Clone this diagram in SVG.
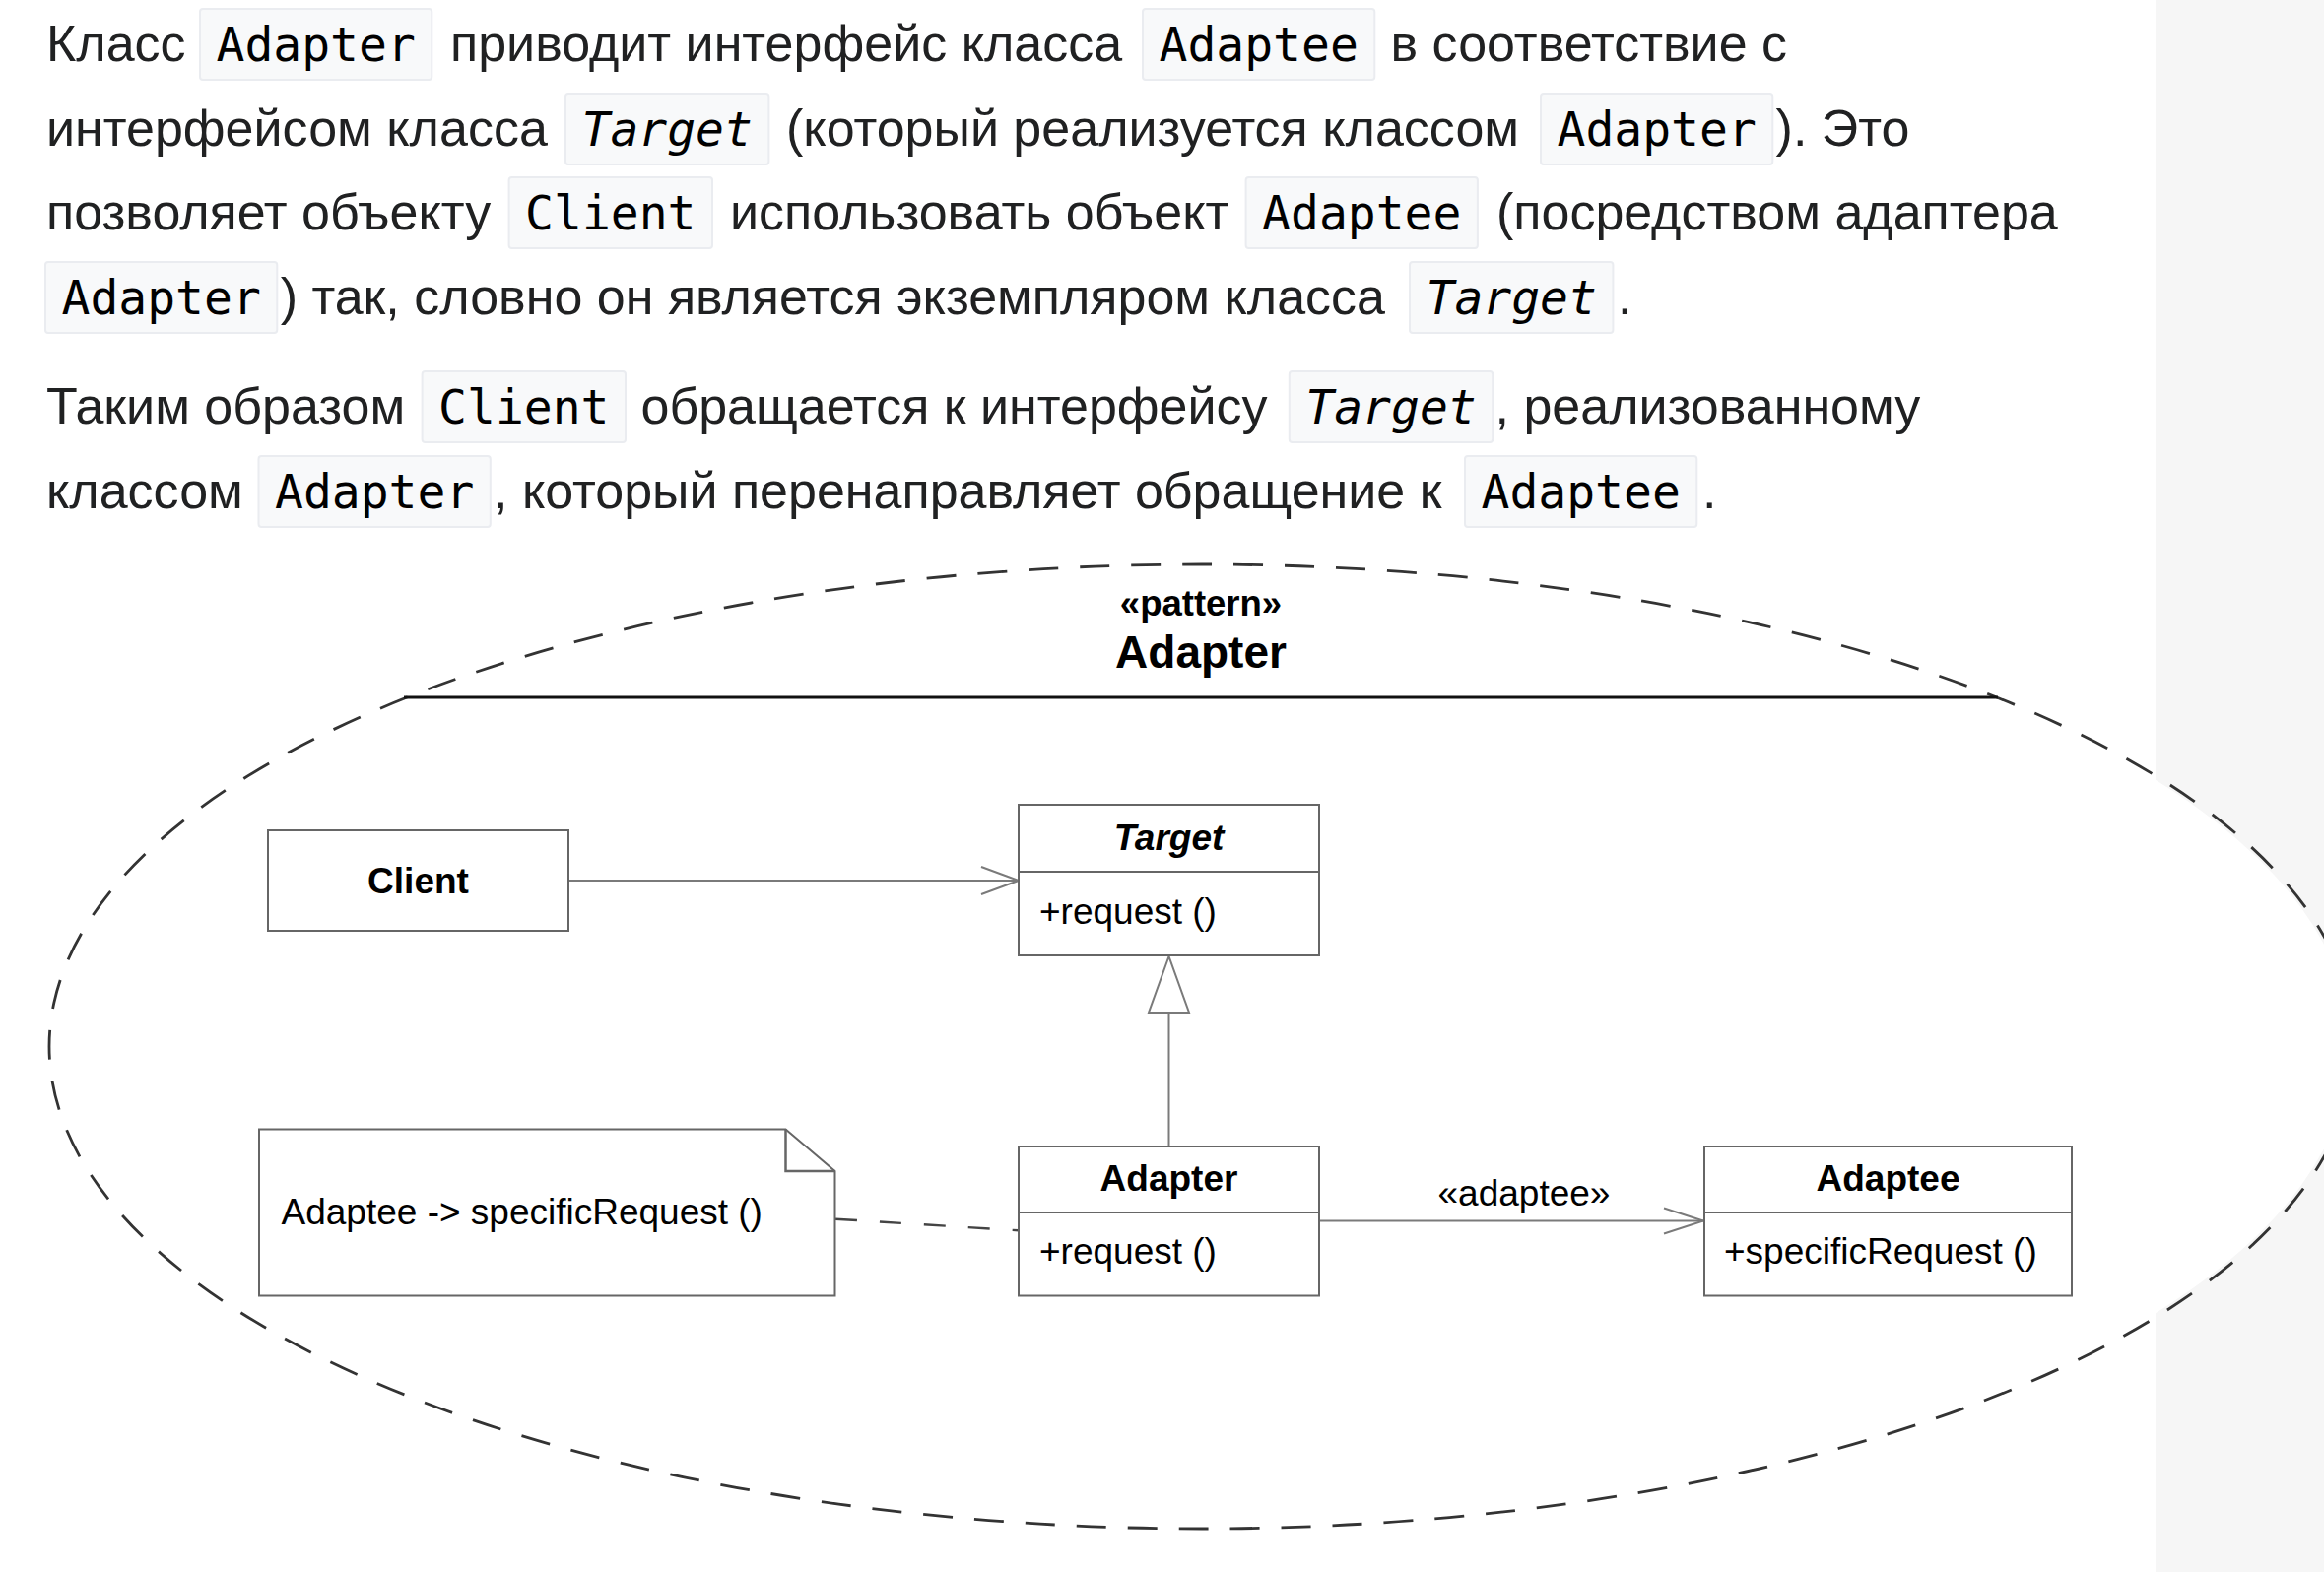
<svg xmlns="http://www.w3.org/2000/svg" width="2359" height="1596" viewBox="0 0 2359 1596">
<defs>
<style>
.body{font-family:"Liberation Sans",Arial,sans-serif;font-size:52px;fill:#202122}
.code{fill:#f8f9fa;stroke:#eaecf0;stroke-width:2}
.mono{font-family:"DejaVu Sans Mono","Liberation Mono",monospace;font-size:48px;fill:#000}
.it{font-style:italic}
.box{fill:#fff;stroke:#666;stroke-width:2}
.lbl{font-family:"Liberation Sans",Arial,sans-serif;font-size:37px;fill:#000}
.b{font-weight:bold}
.mid{text-anchor:middle}
.conn{fill:none;stroke:#7a7a7a;stroke-width:2}
</style>
</defs>
<rect x="0" y="0" width="2359" height="1596" fill="#fff"/>
<rect x="2188" y="0" width="171" height="1596" fill="#f6f6f6"/>

<g id="paragraph">
<text class="body" x="47" y="62">Класс</text>
<rect class="code" x="203" y="9" width="235.3" height="72" rx="3"/><text class="mono" x="219.5" y="62">Adapter</text>
<text class="body" x="457" y="62">приводит интерфейс класса</text>
<rect class="code" x="1160" y="9" width="235.3" height="72" rx="3"/><text class="mono" x="1176.5" y="62">Adaptee</text>
<text class="body" x="1411.5" y="62">в соответствие с</text>

<text class="body" x="47" y="148">интерфейсом класса</text>
<rect class="code" x="574" y="95" width="206.4" height="72" rx="3"/><text class="mono it" x="590.5" y="148">Target</text>
<text class="body" x="798" y="148">(который реализуется классом</text>
<rect class="code" x="1564" y="95" width="235.3" height="72" rx="3"/><text class="mono" x="1580.5" y="148">Adapter</text>
<text class="body" x="1802.6" y="148">). Это</text>

<text class="body" x="47" y="233">позволяет объекту</text>
<rect class="code" x="516.6" y="180" width="206.4" height="72" rx="3"/><text class="mono" x="533.1" y="233">Client</text>
<text class="body" x="741" y="233">использовать объект</text>
<rect class="code" x="1264.6" y="180" width="235.3" height="72" rx="3"/><text class="mono" x="1281.1" y="233">Adaptee</text>
<text class="body" x="1519" y="233">(посредством адаптера</text>

<rect class="code" x="46" y="266" width="235.3" height="72" rx="3"/><text class="mono" x="62.5" y="319">Adapter</text>
<text class="body" x="284.7" y="319">) так, словно он является экземпляром класса</text>
<rect class="code" x="1431" y="266" width="206.4" height="72" rx="3"/><text class="mono it" x="1447.5" y="319">Target</text>
<text class="body" x="1642" y="319">.</text>

<text class="body" x="47" y="430">Таким образом</text>
<rect class="code" x="428.6" y="377" width="206.4" height="72" rx="3"/><text class="mono" x="445.1" y="430">Client</text>
<text class="body" x="650.5" y="430">обращается к интерфейсу</text>
<rect class="code" x="1308.8" y="377" width="206.4" height="72" rx="3"/><text class="mono it" x="1325.3" y="430">Target</text>
<text class="body" x="1517.5" y="430">, реализованному</text>

<text class="body" x="47" y="516">классом</text>
<rect class="code" x="262.5" y="463" width="235.3" height="72" rx="3"/><text class="mono" x="279" y="516">Adapter</text>
<text class="body" x="501" y="516">, который перенаправляет обращение к</text>
<rect class="code" x="1487" y="463" width="235.3" height="72" rx="3"/><text class="mono" x="1503.5" y="516">Adaptee</text>
<text class="body" x="1728" y="516">.</text>
</g>

<g id="pattern">
<ellipse cx="1220" cy="1062.5" rx="1166" ry="485.5" fill="#fff"/>
<ellipse cx="1220" cy="1062.5" rx="1170" ry="489.5" fill="none" stroke="#333" stroke-width="2.8" stroke-dasharray="30 22"/>
<line x1="410" y1="708" x2="2028" y2="708" stroke="#111" stroke-width="3"/>
<text class="lbl b mid" x="1219" y="625" style="font-size:36.5px">«pattern»</text>
<text class="lbl b mid" x="1219" y="678" style="font-size:46px">Adapter</text>
</g>

<g id="connectors">
<line class="conn" x1="577" y1="894" x2="1034" y2="894"/>
<polyline class="conn" points="996,880 1034,894 996,908"/>
<line class="conn" x1="1186.5" y1="1164" x2="1186.5" y2="1028"/>
<polygon points="1186.5,971 1166,1028 1207,1028" fill="#fff" stroke="#7a7a7a" stroke-width="2"/>
<line class="conn" x1="1339" y1="1239.5" x2="1729" y2="1239.5"/>
<polyline class="conn" points="1689,1226.5 1729,1239.5 1689,1252.5"/>
<text class="lbl mid" x="1547" y="1224">«adaptee»</text>
<line x1="848" y1="1237.7" x2="1034" y2="1249.3" stroke="#444" stroke-width="2.4" stroke-dasharray="22 23"/>
</g>

<g id="client">
<rect class="box" x="272" y="843" width="305" height="102"/>
<text class="lbl b mid" x="424.5" y="907">Client</text>
</g>

<g id="target">
<rect class="box" x="1034" y="817" width="305" height="153"/>
<line x1="1034" y1="885" x2="1339" y2="885" stroke="#666" stroke-width="2"/>
<text class="lbl b it mid" x="1186.5" y="863">Target</text>
<text class="lbl" x="1055" y="938">+request ()</text>
</g>

<g id="adapter">
<rect class="box" x="1034" y="1164" width="305" height="151.5"/>
<line x1="1034" y1="1231" x2="1339" y2="1231" stroke="#666" stroke-width="2"/>
<text class="lbl b mid" x="1186.5" y="1209">Adapter</text>
<text class="lbl" x="1055" y="1283">+request ()</text>
</g>

<g id="adaptee">
<rect class="box" x="1730" y="1164" width="373" height="151.5"/>
<line x1="1730" y1="1231" x2="2103" y2="1231" stroke="#666" stroke-width="2"/>
<text class="lbl b mid" x="1916.5" y="1209">Adaptee</text>
<text class="lbl" x="1750" y="1283">+specificRequest ()</text>
</g>

<g id="note">
<path class="box" d="M263,1146.5 H797.5 L847.5,1189 V1315.5 H263 Z"/>
<path d="M797.5,1146.5 V1189 H847.5" fill="none" stroke="#666" stroke-width="2.5"/>
<text class="lbl" x="285.5" y="1243">Adaptee -&gt; specificRequest ()</text>
</g>
</svg>
